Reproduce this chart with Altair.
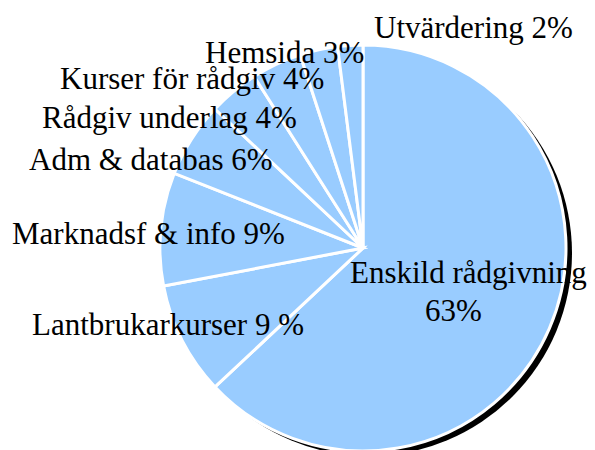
import altair as alt
import pandas as pd

# Slice data (clockwise from 12 o'clock)
categories = ["Enskild rådgivning", "Lantbrukarkurser", "Marknadsf & info",
              "Adm & databas", "Rådgiv underlag", "Kurser för rådgiv",
              "Hemsida", "Utvärdering"]
shares = [63, 9, 9, 6, 4, 4, 3, 2]

# Label texts and their anchor positions (pixels, left/baseline)
label_texts = ["Utvärdering 2%", "Hemsida 3%", "Kurser för rådgiv 4%",
               "Rådgiv underlag 4%", "Adm & databas 6%", "Marknadsf & info 9%",
               "Lantbrukarkurser 9 %", "Enskild rådgivning", "63%"]
label_x = [374, 205, 60, 42, 29, 12, 32, 350, 425]
label_y = [38, 63, 89, 128, 170, 244, 335, 283, 321]

pie_df = pd.DataFrame({"cat": categories, "share": shares,
                       "idx": list(range(len(categories)))})
lab_df = pd.DataFrame({"text": label_texts, "lx": label_x, "ly": label_y})
shadow_df = pd.DataFrame({"v": [1]})

CX, CY, R = 363, 248, 203
FONT = "'Liberation Serif', 'Times New Roman', Times, 'DejaVu Serif', serif"

shadow = alt.Chart(shadow_df).mark_arc(radius=R, color="black").encode(
    theta=alt.Theta("v:Q"),
    x=alt.value(CX + 6),
    y=alt.value(CY + 5),
)

pie = alt.Chart(pie_df).mark_arc(
    radius=R, color="#99CCFF", stroke="white", strokeWidth=3
).encode(
    theta=alt.Theta("share:Q", stack=True),
    order=alt.Order("idx:Q", sort="ascending"),
    x=alt.value(CX),
    y=alt.value(CY),
)

labels = alt.Chart(lab_df).mark_text(
    font=FONT, fontSize=31, color="black",
    align="left", baseline="alphabetic"
).encode(
    x=alt.X("lx:Q", scale=None, axis=None),
    y=alt.Y("ly:Q", scale=None, axis=None),
    text="text:N",
)

chart = alt.layer(shadow, pie, labels).resolve_scale(
    theta="independent"
).properties(
    width=595, height=450,
    autosize=alt.AutoSizeParams(type="none"),
    padding=0,
    background="white",
).configure_view(stroke=None)

chart.save("out.html", embed_options={"renderer": "svg", "actions": False})
